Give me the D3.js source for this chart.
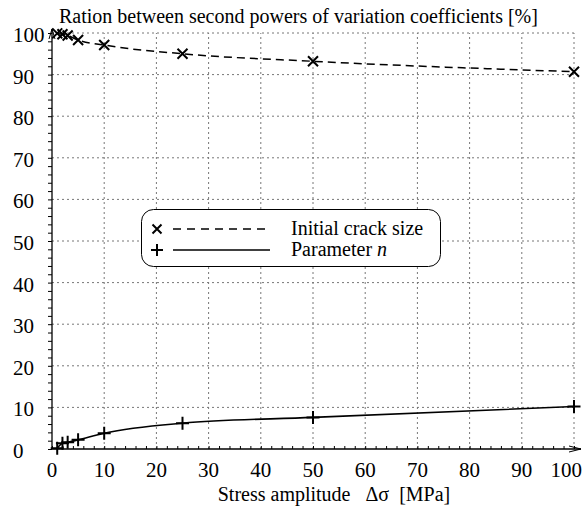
<!DOCTYPE html>
<html>
<head>
<meta charset="utf-8">
<script src="https://cdn.jsdelivr.net/npm/d3@7"></script>
<style>
  body { margin: 0; background: #fff; }
</style>
</head>
<body>
<div id="chart"></div>
<script>
// Data
const stress = [1, 2, 3, 5, 10, 25, 50, 100];
const crackSize = [99.9, 99.7, 99.4, 98.3, 97.1, 95.0, 93.2, 90.7];
const paramN = [0.2, 1.4, 1.6, 2.2, 3.8, 6.2, 7.6, 10.2];
const xTicks = [0, 10, 20, 30, 40, 50, 60, 70, 80, 90, 100];
const yTicks = [0, 10, 20, 30, 40, 50, 60, 70, 80, 90, 100];

const width = 584, height = 513;
const margin = { top: 33, right: 10, bottom: 64, left: 52 };
const serif = "Liberation Serif";

const svg = d3.select("#chart")
    .append("svg")
    .attr("width", width)
    .attr("height", height)
    .attr("font-family", serif);

const xScale = d3.scaleLinear().domain([0, 100]).range([margin.left, 574]);
const yScale = d3.scaleLinear().domain([0, 100]).range([449, margin.top]);

// Grid lines (dotted)
svg.append("g")
    .selectAll("line")
    .data(xTicks.filter(d => d > 0))
    .join("line")
    .attr("x1", d => xScale(d)).attr("x2", d => xScale(d))
    .attr("y1", yScale(0)).attr("y2", yScale(100))
    .attr("stroke", "#777").attr("stroke-width", 1)
    .attr("stroke-dasharray", "2,3");

svg.append("g")
    .selectAll("line")
    .data(yTicks.filter(d => d > 0))
    .join("line")
    .attr("x1", xScale(0)).attr("x2", xScale(100))
    .attr("y1", d => yScale(d)).attr("y2", d => yScale(d))
    .attr("stroke", "#777").attr("stroke-width", 1)
    .attr("stroke-dasharray", "2,3");

// X axis
const xAxis = svg.append("g")
    .attr("transform", `translate(0, ${yScale(0)})`)
    .call(d3.axisBottom(xScale).tickValues(d3.range(0, 101, 2)).tickSize(-3).tickFormat(""));
xAxis.select(".domain").remove();
xAxis.selectAll("line").attr("stroke", "#000");

svg.append("g")
    .selectAll("text")
    .data(xTicks)
    .join("text")
    .attr("x", d => d === 100 ? 582 : xScale(d))
    .attr("y", 477)
    .attr("text-anchor", d => d === 100 ? "end" : "middle")
    .attr("font-size", 21)
    .attr("font-family", serif)
    .text(d => d);

// Y axis
const yAxis = svg.append("g")
    .attr("transform", `translate(${xScale(0)}, 0)`)
    .call(d3.axisLeft(yScale).tickValues(d3.range(0, 101, 2)).tickSize(4).tickFormat(""));
yAxis.select(".domain").remove();
yAxis.selectAll("line").attr("stroke", "#000");

svg.append("g")
    .selectAll("text")
    .data(yTicks)
    .join("text")
    .attr("x", 13)
    .attr("y", d => yScale(d) + 9)
    .attr("text-anchor", "start")
    .attr("font-size", 21)
    .attr("font-family", serif)
    .text(d => d);

// Axis lines with arrows
svg.append("line")
    .attr("x1", xScale(0)).attr("x2", 581)
    .attr("y1", yScale(0)).attr("y2", yScale(0))
    .attr("stroke", "#000").attr("stroke-width", 1.3);
svg.append("path")
    .attr("d", `M${581 - 12},${yScale(0) - 3} L581,${yScale(0)} L${581 - 12},${yScale(0) + 3}`)
    .attr("fill", "none").attr("stroke", "#000").attr("stroke-width", 1);

svg.append("line")
    .attr("x1", xScale(0)).attr("x2", xScale(0))
    .attr("y1", yScale(0)).attr("y2", 29)
    .attr("stroke", "#000").attr("stroke-width", 1.3);
svg.append("path")
    .attr("d", `M${xScale(0) - 3},${29 + 10} L${xScale(0)},29 L${xScale(0) + 3},${29 + 10}`)
    .attr("fill", "none").attr("stroke", "#000").attr("stroke-width", 1);

// Series lines
const lineGen = ys => d3.line()
    .x((d, i) => xScale(stress[i]))
    .y(d => yScale(d))
    .curve(d3.curveMonotoneX)(ys);

svg.append("path")
    .attr("d", lineGen(crackSize))
    .attr("fill", "none").attr("stroke", "#000")
    .attr("stroke-width", 1.5)
    .attr("stroke-dasharray", "8,5");

svg.append("path")
    .attr("d", lineGen(paramN))
    .attr("fill", "none").attr("stroke", "#000")
    .attr("stroke-width", 1.6);

// Markers
const cross = (g, x, y, s) => g.append("path")
    .attr("d", `M${x - s},${y - s} L${x + s},${y + s} M${x - s},${y + s} L${x + s},${y - s}`)
    .attr("stroke", "#000").attr("stroke-width", 2).attr("fill", "none");
const plus = (g, x, y, s) => g.append("path")
    .attr("d", `M${x - s},${y} L${x + s},${y} M${x},${y - s} L${x},${y + s}`)
    .attr("stroke", "#000").attr("stroke-width", 2).attr("fill", "none");

const markers = svg.append("g");
crackSize.forEach((v, i) => cross(markers, xScale(stress[i]), yScale(v), 5));
paramN.forEach((v, i) => plus(markers, xScale(stress[i]), yScale(v), 6.5));

// Legend
const legend = svg.append("g");
legend.append("rect")
    .attr("x", 141.5).attr("y", 209.5)
    .attr("width", 299).attr("height", 57)
    .attr("rx", 12).attr("ry", 12)
    .attr("fill", "#fff").attr("stroke", "#000").attr("stroke-width", 1);

cross(legend, 157, 229, 4.5);
legend.append("line")
    .attr("x1", 173).attr("x2", 268).attr("y1", 229).attr("y2", 229)
    .attr("stroke", "#000").attr("stroke-width", 1.5).attr("stroke-dasharray", "8,6");
legend.append("text")
    .attr("x", 291).attr("y", 235)
    .attr("font-size", 20)
    .attr("font-family", serif)
    .text("Initial crack size");

plus(legend, 157, 250, 6);
legend.append("line")
    .attr("x1", 173).attr("x2", 270).attr("y1", 250).attr("y2", 250)
    .attr("stroke", "#000").attr("stroke-width", 1.5);
const t2 = legend.append("text")
    .attr("x", 291).attr("y", 256)
    .attr("font-size", 20)
    .attr("font-family", serif);
t2.append("tspan").text("Parameter ");
t2.append("tspan").attr("font-style", "italic").text("n");

// Title
svg.append("text")
    .attr("x", 59).attr("y", 23)
    .attr("font-size", 20)
    .attr("font-family", serif)
    .text("Ration between second powers of variation coefficients [%]");

// X axis label
svg.append("text")
    .attr("x", 334).attr("y", 501)
    .attr("text-anchor", "middle")
    .attr("font-size", 20)
    .attr("font-family", serif)
    .attr("xml:space", "preserve")
    .text("Stress amplitude   \u0394\u03c3  [MPa]");
</script>
</body>
</html>
